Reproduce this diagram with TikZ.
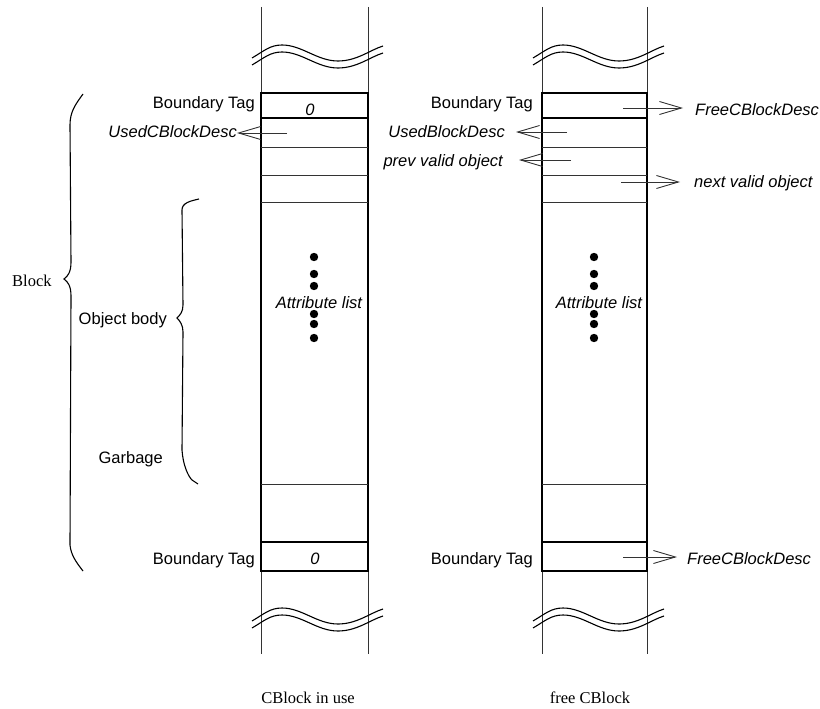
\documentclass[tikz,border=0pt]{standalone}
\usepackage{fontspec}
\setmainfont{Liberation Sans}
\newfontfamily\capfont{Liberation Serif}
\usetikzlibrary{arrows.meta}

\begin{document}
\begin{tikzpicture}[x=1pt, y=-1pt,
    lbl/.style={inner sep=0pt, font=\fontsize{16.5}{19}\selectfont},
    ital/.style={lbl, font=\fontsize{16.5}{19}\selectfont\itshape},
    captxt/.style={lbl, font=\fontsize{16.5}{19}\selectfont\capfont},
    wall/.style={line width=0.9pt, black!80},
    brk/.style={line width=1.1pt},
    ptr/.style={line width=0.9pt, black!80, -{Straight Barb[length=22pt,width=13pt]}},
    brace/.style={line width=1.1pt}]
  \useasboundingbox (0,0) rectangle (820,709);

  % the two memory columns
  \foreach \xa/\xb/\xm in {261/368/314, 542/647/594} {
    \draw[wall] (\xa,7) -- (\xa,654);
    \draw[wall] (\xb,7) -- (\xb,654);
    \foreach \yc in {53,616} {
      \foreach \dy in {0,7} {
        \draw[brk] (\xa-9,\yc+\dy+5) .. controls (\xa+3,\yc+\dy-2) and (\xa+9,\yc+\dy-8) .. (\xa+21,\yc+\dy-8)
          .. controls (\xa+41,\yc+\dy-8) and (\xa+56,\yc+\dy+8) .. (\xa+77,\yc+\dy+8)
          .. controls (\xa+96,\yc+\dy+8) and (\xa+109,\yc+\dy-3) .. (\xa+122,\yc+\dy-7);
      }
    }
    \draw[line width=2pt] (\xa,93) rectangle (\xb,571);
    \draw[line width=1.6pt] (\xa,118) -- (\xb,118);
    \foreach \yd in {147,175,202,484} {
      \draw[wall] (\xa,\yd) -- (\xb,\yd);
    }
    \draw[line width=1.2pt] (\xa,542) -- (\xb,542);
    \foreach \yd in {257,274,286,314,324,338} {
      \fill (\xm,\yd) circle (4.2pt);
    }
    \node[ital, anchor=base] at (\xm+5,308) {Attribute list};
  }

  % CBlock in use
  \node[lbl, anchor=base east] (tagUT) at (255,109) {Boundary Tag};
  \node[ital, anchor=base] (zeroT) at (310,115) {0};
  \node[ital, anchor=base east] (ucbd) at (237,138) {UsedCBlockDesc};
  \coordinate (ucbdS) at (287,133);
  \draw[ptr] (ucbdS) -- (ucbd.east |- ucbdS);
  \node[lbl, anchor=base east] (tagUB) at (255,564) {Boundary Tag};
  \node[ital, anchor=base] (zeroB) at (315,564) {0};

  % free CBlock
  \node[lbl, anchor=base east] (tagFT) at (533,109) {Boundary Tag};
  \node[ital, anchor=base west] (fcbdT) at (695,115) {FreeCBlockDesc};
  \coordinate (fcbdTS) at (623,108);
  \draw[ptr, shorten >=12pt] (fcbdTS) -- (fcbdT.west |- fcbdTS);
  \node[ital, anchor=base east] (ubd) at (505,138) {UsedBlockDesc};
  \coordinate (ubdS) at (567,132);
  \draw[ptr, shorten >=11pt] (ubdS) -- (ubd.east |- ubdS);
  \node[ital, anchor=base east] (prev) at (503,166) {prev valid object};
  \coordinate (prevS) at (571,160);
  \draw[ptr, shorten >=16pt] (prevS) -- (prev.east |- prevS);
  \node[ital, anchor=base west] (next) at (694,187) {next valid object};
  \coordinate (nextS) at (621,182);
  \draw[ptr, shorten >=14pt] (nextS) -- (next.west |- nextS);
  \node[lbl, anchor=base east] (tagFB) at (533,564) {Boundary Tag};
  \node[ital, anchor=base west] (fcbdB) at (687,564) {FreeCBlockDesc};
  \coordinate (fcbdBS) at (623,557);
  \draw[ptr, shorten >=10pt] (fcbdBS) -- (fcbdB.west |- fcbdBS);

  % braces
  \draw[brace] (83,94) .. controls (75,105) and (70,112) .. (70,125) -- (71,262)
    .. controls (71,272) and (68,276) .. (64,279) .. controls (68,282) and (71,286) .. (71,296)
    -- (70,545) .. controls (71,555) and (76,562) .. (83,571);
  \node[captxt, anchor=base west] (block) at (12,286) {Block};
  \draw[brace] (199,199) .. controls (190,201) and (182,203) .. (182,210) -- (183,305)
    .. controls (183,312) and (180,315) .. (177,318) .. controls (180,321) and (183,325) .. (183,332)
    -- (182,450) .. controls (183,465) and (188,476) .. (192,480) -- (198,484);
  \node[lbl, anchor=base east] (body) at (167,324) {Object body};
  \node[lbl, anchor=base east] (garb) at (163,463) {Garbage};

  \node[captxt, anchor=base] (inuse) at (308,703) {CBlock in use};
  \node[captxt, anchor=base] (free) at (590,703) {free CBlock};
\end{tikzpicture}
\end{document}
